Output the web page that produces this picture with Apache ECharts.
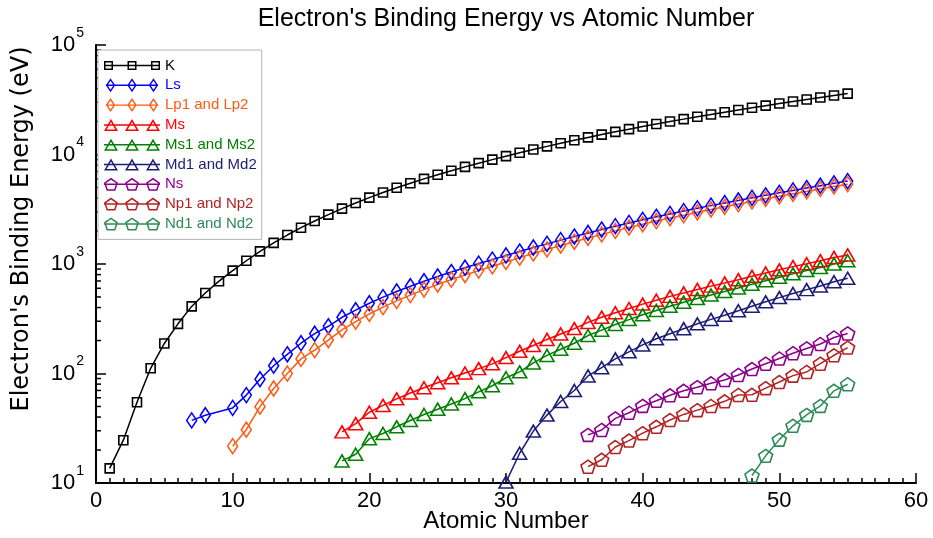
<!DOCTYPE html>
<html>
<head>
<meta charset="utf-8">
<script src="https://cdn.jsdelivr.net/npm/echarts@6/dist/echarts.min.js"></script>
<style>
  html, body { margin: 0; padding: 0; background: #fff; }
  #chart { width: 933px; height: 538px; }
</style>
</head>
<body>
<div id="chart"></div>
<script>
// atomic numbers where each shell starts
const kStart = 1;
const lpStart = 10;
const msStart = 18;
const mdStart = 30;
const nsStart = 36;
const ndStart = 48;
// Ls has no point at Z = 9
const lsZ = [7, 8, 10, 11, 12, 13, 14, 15, 16, 17, 18, 19, 20, 21, 22, 23, 24, 25, 26, 27, 28, 29,
  30, 31, 32, 33, 34, 35, 36, 37, 38, 39, 40, 41, 42, 43, 44, 45, 46, 47, 48, 49, 50, 51, 52, 53, 54, 55];

// binding energies (eV)
const kEnergy = [13.6, 24.6, 54.7, 111.5, 188, 284.2, 409.9, 543.1, 696.7, 870.2,
  1070.8, 1303, 1559.6, 1839, 2145.5, 2472, 2822.4, 3205.9, 3608.4, 4038.5,
  4492, 4966, 5465, 5989, 6539, 7112, 7709, 8333, 8979, 9659,
  10367, 11103, 11867, 12658, 13474, 14326, 15200, 16105, 17038, 17998,
  18986, 20000, 21044, 22117, 23220, 24350, 25514, 26711, 27940, 29200,
  30491, 31814, 33169, 34561, 35985];
const lsEnergy = [37.3, 41.6, 48.5, 63.5, 88.7, 117.8, 149.7, 189, 230.9, 270, 326.3, 378.6,
  438.4, 498, 560.9, 626.7, 696, 769.1, 844.6, 925.1, 1008.6, 1096.7,
  1196.2, 1299, 1414.6, 1527, 1652, 1782, 1921, 2065, 2216, 2373,
  2532, 2698, 2866, 3043, 3224, 3412, 3604, 3806, 4018, 4238,
  4465, 4698, 4939, 5188, 5453, 5714];
const lpEnergy = [21.7, 30.65, 49.78, 72.95, 99.82, 136, 163.6, 202, 250.6, 297.3,
  349.7, 403.6, 460.2, 519.8, 583.8, 649.9, 719.9, 793.2, 870, 952.3,
  1044.9, 1143.2, 1248.1, 1359.1, 1474.3, 1596, 1730.9, 1864, 2007, 2156,
  2307, 2465, 2625, 2793, 2967, 3146, 3330, 3524, 3727, 3938,
  4156, 4380, 4612, 4852, 5107, 5359];
const msEnergy = [29.3, 34.8, 44.3, 51.1, 58.7, 66.3, 74.1, 82.3, 91.3, 101, 110.8, 122.5,
  139.8, 159.5, 180.1, 204.7, 229.6, 257, 292.8, 326.7, 358.7, 392,
  430.3, 466.6, 506.3, 544, 586.1, 628.1, 671.6, 719, 772, 827.2,
  884.7, 946, 1006, 1072, 1148.7, 1211];
const ms1Energy = [15.9, 18.3, 25.4, 28.3, 32.6, 37.2, 42.2, 47.2, 52.7, 58.9, 68.0, 77.3,
  91.4, 103.5, 124.9, 146.2, 166.5, 189, 222.2, 248.7, 280.3, 310.6,
  343.5, 376.1, 411.6, 447.6, 483.5, 521.3, 559.9, 603.8, 652.6, 703.2,
  756.5, 812.7, 870.8, 931, 1002.1, 1071];
const mdEnergy = [10.2, 18.7, 29.8, 41.7, 55.5, 70, 95, 113, 136, 157.7,
  182.4, 207.4, 230.5, 256.5, 284.2, 311.9, 340.5, 374, 411.9, 451.4,
  493.2, 537.5, 583.4, 630.8, 689, 740.5];
const nsEnergy = [27.5, 30.5, 38.9, 43.8, 50.6, 56.4, 63.2, 69.5, 75.0, 81.4,
  87.1, 97.0, 109.8, 122.9, 137.1, 153.2, 169.4, 186, 213.2, 232.3];
const npEnergy = [14.1, 16.3, 21.3, 24.4, 28.5, 32.6, 37.6, 42.3, 46.3, 50.5,
  55.7, 63.7, 63.9, 73.5, 83.6, 95.6, 103.3, 123, 146.7, 172.4];
const ndEnergy = [11.7, 17.7, 24.9, 33.3, 41.9, 50.6, 69.5, 79.8];

const xTicks = [0, 10, 20, 30, 40, 50, 60];
const yDecades = [1, 2, 3, 4, 5];

const FONT = 'Liberation Sans';
const PENTAGON = 'path://M0,-1L0.951,-0.309L0.588,0.809L-0.588,0.809L-0.951,-0.309Z';
const ICON_W = 56;

// shape outline (x, y) points inside a w x h box centred on cx
function outline(shape, cx, w, h) {
  if (shape === 'rect') return [[cx - w / 2, 0], [cx + w / 2, 0], [cx + w / 2, h], [cx - w / 2, h]];
  if (shape === 'diamond') return [[cx, 0], [cx + w / 2, h / 2], [cx, h], [cx - w / 2, h / 2]];
  if (shape === 'triangle') return [[cx, 0], [cx + w / 2, h], [cx - w / 2, h]];
  const u = [[0, -1], [0.951, -0.309], [0.588, 0.809], [-0.588, 0.809], [-0.951, -0.309]];
  return u.map(p => [cx + p[0] / 0.951 * w / 2, (p[1] + 1) / 1.809 * h]);
}

// move every edge inwards by t
function inset(pts, t) {
  const n = pts.length;
  const c = pts.reduce((a, p) => [a[0] + p[0] / n, a[1] + p[1] / n], [0, 0]);
  const lines = pts.map((p, i) => {
    const q = pts[(i + 1) % n];
    const d = [q[0] - p[0], q[1] - p[1]];
    const len = Math.hypot(d[0], d[1]);
    let nx = -d[1] / len, ny = d[0] / len;
    if ((c[0] - p[0]) * nx + (c[1] - p[1]) * ny < 0) { nx = -nx; ny = -ny; }
    return { p: [p[0] + nx * t, p[1] + ny * t], d: d };
  });
  return lines.map((l, i) => {
    const m = lines[(i + n - 1) % n];
    const den = m.d[0] * l.d[1] - m.d[1] * l.d[0];
    const s = ((l.p[0] - m.p[0]) * l.d[1] - (l.p[1] - m.p[1]) * l.d[0]) / den;
    return [m.p[0] + m.d[0] * s, m.p[1] + m.d[1] * s];
  });
}

function poly(pts) {
  return 'M' + pts.map(p => p[0].toFixed(2) + ',' + p[1].toFixed(2)).join('L') + 'Z';
}

// legend icon: line with three hollow markers
function legendIcon(shape, w, h) {
  const t = 1.5, lt = 1.5;
  let d = '';
  [w / 2, ICON_W / 2, ICON_W - w / 2].forEach(cx => {
    const out = outline(shape, cx, w, h);
    d += poly(out) + poly(inset(out, t).reverse());
  });
  const y0 = h / 2 - lt / 2, y1 = h / 2 + lt / 2;
  d += 'M0,' + y0 + 'L' + ICON_W + ',' + y0 + 'L' + ICON_W + ',' + y1 + 'L0,' + y1 + 'Z';
  return 'path://' + d;
}

function pairs(start, values) {
  return values.map((v, i) => [start + i, v]);
}

const seriesList = [
  { name: 'K', color: '#000000', symbol: 'rect', size: [9, 9], shape: 'rect', data: pairs(kStart, kEnergy) },
  { name: 'Ls', color: '#0000ff', symbol: 'diamond', size: [10, 15], shape: 'diamond', data: lsZ.map((z, i) => [z, lsEnergy[i]]) },
  { name: 'Lp1 and Lp2', color: '#ff5a14', symbol: 'diamond', size: [10, 15], shape: 'diamond', data: pairs(lpStart, lpEnergy) },
  { name: 'Ms', color: '#ff0000', symbol: 'triangle', size: [14, 12], shape: 'triangle', data: pairs(msStart, msEnergy) },
  { name: 'Ms1 and Ms2', color: '#008000', symbol: 'triangle', size: [14, 12], shape: 'triangle', data: pairs(msStart, ms1Energy) },
  { name: 'Md1 and Md2', color: '#1c1c78', symbol: 'triangle', size: [14, 12], shape: 'triangle', data: pairs(mdStart, mdEnergy) },
  { name: 'Ns', color: '#8b008b', symbol: PENTAGON, size: [14, 13], shape: 'pentagon', data: pairs(nsStart, nsEnergy) },
  { name: 'Np1 and Np2', color: '#b22222', symbol: PENTAGON, size: [14, 13], shape: 'pentagon', data: pairs(nsStart, npEnergy) },
  { name: 'Nd1 and Nd2', color: '#2e8b57', symbol: PENTAGON, size: [14, 13], shape: 'pentagon', data: pairs(ndStart, ndEnergy) }
];

// minor ticks on the log axis (2..9 in every decade)
const minorTicks = [];
yDecades.slice(0, -1).forEach(e => {
  for (let m = 2; m <= 9; m++) minorTicks.push([0, m * Math.pow(10, e)]);
});

const chart = echarts.init(document.getElementById('chart'));

const series = seriesList.map(s => ({
  name: s.name,
  type: 'line',
  data: s.data,
  symbol: s.symbol,
  symbolSize: s.size,
  showSymbol: true,
  connectNulls: true,
  lineStyle: { color: s.color, width: 1.5 },
  itemStyle: { color: 'none', borderColor: s.color, borderWidth: 1.6 },
  emphasis: { disabled: true }
}));

series.push({
  type: 'custom',
  silent: true,
  data: minorTicks,
  renderItem: function (params, api) {
    const p = api.coord([api.value(0), api.value(1)]);
    return {
      type: 'line',
      shape: { x1: p[0], y1: p[1], x2: p[0] + 5, y2: p[1] },
      style: { stroke: '#000', lineWidth: 1.5 }
    };
  }
});

const option = {
  animation: false,
  backgroundColor: '#fff',
  title: {
    text: "Electron's Binding Energy vs Atomic Number",
    left: 506,
    top: 7,
    padding: 0,
    textAlign: 'center',
    textStyle: { fontFamily: FONT, fontSize: 25, fontWeight: 'normal', color: '#000' }
  },
  grid: { left: 96, right: 17, top: 45, bottom: 55, containLabel: false, outerBoundsMode: 'none' },
  legend: {
    orient: 'vertical',
    left: 98,
    top: 50,
    padding: [8, 5, 8, 6],
    itemGap: 4.8,
    itemWidth: ICON_W,
    itemHeight: 14,
    backgroundColor: '#fff',
    borderColor: '#b4b4b4',
    borderWidth: 1,
    selectedMode: false,
    data: seriesList.map(s => ({
      name: s.name,
      icon: legendIcon(s.shape, s.size[0], s.size[1]),
      itemStyle: { color: s.color, borderWidth: 0 },
      textStyle: { color: s.color, fontSize: 15, lineHeight: 14, fontFamily: FONT }
    }))
  },
  xAxis: {
    type: 'value',
    min: xTicks[0],
    max: xTicks[xTicks.length - 1],
    interval: 10,
    name: 'Atomic Number',
    nameLocation: 'middle',
    nameGap: 26,
    nameMoveOverlap: false,
    nameTextStyle: { fontFamily: FONT, fontSize: 24, color: '#000' },
    axisLine: { onZero: false, lineStyle: { color: '#000', width: 2 } },
    axisTick: { inside: true, length: 10, lineStyle: { color: '#000', width: 1.5 } },
    minorTick: { show: true, splitNumber: 10, length: 5, lineStyle: { color: '#000', width: 1.5 } },
    splitLine: { show: false },
    axisLabel: { fontFamily: FONT, fontSize: 22, color: '#000', margin: 7 }
  },
  yAxis: {
    type: 'log',
    logBase: 10,
    min: Math.pow(10, yDecades[0]),
    max: Math.pow(10, yDecades[yDecades.length - 1]),
    name: "Electron's Binding Energy (eV)",
    nameLocation: 'middle',
    nameGap: 62,
    nameMoveOverlap: false,
    nameTextStyle: { fontFamily: 'DejaVu Sans', fontSize: 24, color: '#000', padding: [0, 0, 0, 70] },
    axisLine: { onZero: false, lineStyle: { color: '#000', width: 2 } },
    axisTick: { inside: true, length: 10, lineStyle: { color: '#000', width: 1.5 } },
    splitLine: { show: false },
    axisLabel: {
      margin: 12,
      formatter: v => '{b|10}{s|' + Math.round(Math.log10(v)) + '}',
      rich: {
        b: { fontFamily: FONT, fontSize: 22, color: '#000', lineHeight: 22, verticalAlign: 'bottom' },
        s: { fontFamily: FONT, fontSize: 14, color: '#000', lineHeight: 14, padding: [0, 0, 16, 1], verticalAlign: 'bottom' }
      }
    }
  },
  series: series
};

chart.setOption(option);
</script>
</body>
</html>
